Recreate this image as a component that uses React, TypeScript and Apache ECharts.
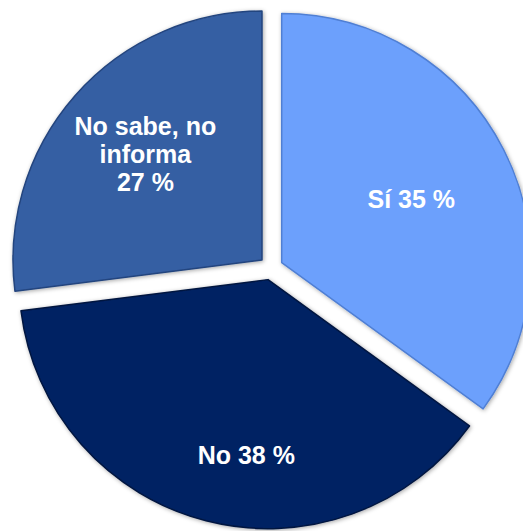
import React, { useEffect, useRef } from "react";
import * as echarts from "echarts";

const categories = ["Sí", "No", "No sabe, no\ninforma"];
const values = [35, 38, 27];
const colors = ["#6ca0fc", "#062263", "#355ea3"];
const borderColors = ["#4f7fd4", "#031640", "#24457e"];
// label shifts from ECharts' default inside position
const labelShift = [
  [16, -6],
  [10, 52],
  [-21, -22],
];

export default function App() {
  const ref = useRef<HTMLDivElement>(null);
  useEffect(() => {
    if (!ref.current) return;
    const chart = echarts.init(ref.current, undefined, { renderer: "svg" });
    chart.setOption({
      animation: false,
      backgroundColor: "#ffffff",
      series: [
        {
          type: "pie",
          center: [271, 268],
          radius: 249,
          startAngle: 90,
          clockwise: true,
          selectedMode: "multiple",
          selectedOffset: 12,
          silent: true,
          emphasis: { disabled: true },
          label: {
            show: true,
            position: "inside",
            color: "#ffffff",
            fontFamily: "Liberation Sans, Arial, sans-serif",
            fontWeight: "bold",
            fontSize: 25,
            lineHeight: 28,
            align: "center",
            formatter: (p: any) =>
              p.name.includes("\n") ? `${p.name}\n${p.value} %` : `${p.name} ${p.value} %`,
          },
          labelLine: { show: false },
          labelLayout: (p: any) => ({
            dx: labelShift[p.dataIndex][0],
            dy: labelShift[p.dataIndex][1],
          }),
          data: categories.map((name, i) => ({
            name,
            value: values[i],
            selected: true,
            itemStyle: {
              color: colors[i],
              borderColor: borderColors[i],
              borderWidth: 1.5,
              shadowBlur: 4,
              shadowColor: "rgba(0,0,0,0.35)",
              shadowOffsetX: 1,
              shadowOffsetY: 1,
            },
            select: {
              itemStyle: {
                color: colors[i],
                borderColor: borderColors[i],
                borderWidth: 1.5,
              },
            },
          })),
        },
      ],
    });
    return () => chart.dispose();
  }, []);
  return (
    <div
      ref={ref}
      style={{ position: "fixed", left: 0, top: 0, width: 523, height: 531 }}
    />
  );
}
